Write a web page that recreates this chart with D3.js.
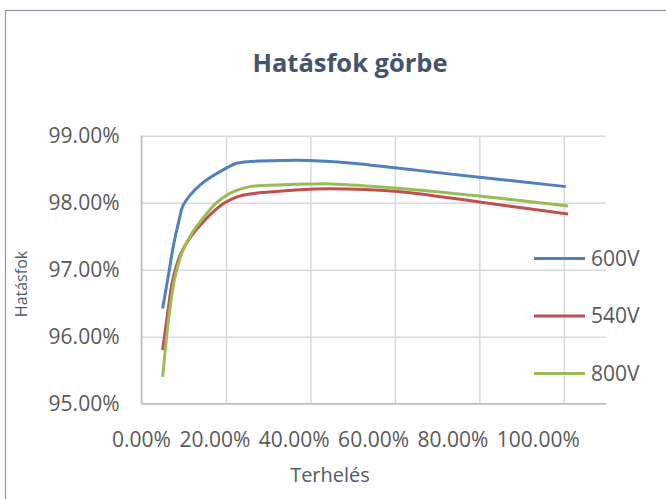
<!DOCTYPE html>
<html>
<head>
<meta charset="utf-8">
<script src="https://cdn.jsdelivr.net/npm/d3@7"></script>
<style>
  html, body { margin: 0; padding: 0; background: #fff; }
  svg { display: block; }
  text { font-family: "Open Sans", "Segoe UI", sans-serif; }
</style>
</head>
<body>
<svg id="chart" width="666" height="499"></svg>
<script>
// ---- data ----
const seriesNames = ["600V", "540V", "800V"];
const seriesColors = ["#4F81BD", "#C0504D", "#9BBB59"];

const load600 = [0.05, 0.066, 0.075, 0.089, 0.099, 0.1385, 0.20, 0.225, 0.26, 0.33, 0.40, 0.50, 0.60, 0.80, 1.005];
const eff600  = [0.9642, 0.9700, 0.9734, 0.9774, 0.97966, 0.98264, 0.98513, 0.98588, 0.98615, 0.9863, 0.9863, 0.9859, 0.9852, 0.9838, 0.9824];

const load540 = [0.05, 0.062, 0.074, 0.093, 0.115, 0.15, 0.195, 0.228, 0.256, 0.327, 0.40, 0.45, 0.60, 0.80, 1.01];
const eff540  = [0.9580, 0.9635, 0.9685, 0.9724, 0.9748, 0.9774, 0.9799, 0.9809, 0.9813, 0.9817, 0.9820, 0.9821, 0.9817, 0.9801, 0.9783];

const load800 = [0.05, 0.0595, 0.066, 0.078, 0.095, 0.119, 0.142, 0.176, 0.209, 0.233, 0.256, 0.30, 0.40, 0.45, 0.60, 0.80, 1.01];
const eff800  = [0.9540, 0.9600, 0.9635, 0.9685, 0.9724, 0.9754, 0.9774, 0.9799, 0.9814, 0.9820, 0.9824, 0.9826, 0.9828, 0.9828, 0.9822, 0.9810, 0.9795];

const xTicks = [0, 0.2, 0.4, 0.6, 0.8, 1.0];
const yTicks = [0.95, 0.96, 0.97, 0.98, 0.99];

const titleText = "Hatásfok görbe";
const xTitle = "Terhelés";
const yTitle = "Hatásfok";

// ---- drawing ----
const svg = d3.select("#chart");
const fmt = d3.format(".2%");

const x = d3.scaleLinear().domain([0, 1.1]).range([141.5, 606]);
const y = d3.scaleLinear().domain([0.95, 0.99]).range([403.7, 135.7]);

// chart frame
svg.append("rect")
  .attr("x", 5.5).attr("y", 10.5)
  .attr("width", 700).attr("height", 520)
  .attr("fill", "#fff")
  .attr("stroke", "#8A96A3").attr("stroke-width", 1.2);

// title
svg.append("text")
  .attr("x", 350).attr("y", 72)
  .attr("text-anchor", "middle")
  .attr("font-size", 25.5).attr("font-weight", 700)
  .attr("fill", "#44546A")
  .text(titleText);

// vertical gridlines via axis
const gx = svg.append("g")
  .attr("transform", `translate(0,${y(0.95)})`)
  .call(d3.axisBottom(x).tickValues(xTicks)
        .tickSize(-(y(0.95) - y(0.99))).tickFormat(""));
gx.select(".domain").remove();
gx.selectAll(".tick line").attr("stroke", "#D9D9D9").attr("stroke-width", 1.5);

// horizontal gridlines + y labels via axis
const gy = svg.append("g")
  .attr("transform", `translate(${x(0)},0)`)
  .call(d3.axisLeft(y).tickValues(yTicks)
        .tickSize(-(x(1.1) - x(0))).tickPadding(22).tickFormat(fmt));
gy.select(".domain").remove();
gy.selectAll(".tick line").attr("stroke", "#D9D9D9").attr("stroke-width", 1.5);
gy.selectAll(".tick text")
  .attr("font-size", 21).attr("fill", "#595959")
  .attr("font-family", "'Open Sans', sans-serif");

// axis lines
svg.append("line")
  .attr("x1", x(0)).attr("x2", x(1.1))
  .attr("y1", y(0.95)).attr("y2", y(0.95))
  .attr("stroke", "#BFBFBF").attr("stroke-width", 1.5);
svg.append("line")
  .attr("x1", x(0)).attr("x2", x(0))
  .attr("y1", y(0.95)).attr("y2", y(0.99))
  .attr("stroke", "#BFBFBF").attr("stroke-width", 1.5);

// x tick labels (packed in a row, as in the reference)
const xLab = svg.append("text")
  .attr("y", 447)
  .attr("font-size", 21).attr("fill", "#595959")
  .attr("word-spacing", 3)
  .text(xTicks.map(fmt).join(" "));
const tmp = svg.append("text").attr("font-size", 21).text(fmt(xTicks[0]));
const firstW = tmp.node().getComputedTextLength();
tmp.remove();
xLab.attr("x", x(0) - firstW / 2);

// axis titles
svg.append("text")
  .attr("x", 330).attr("y", 482)
  .attr("text-anchor", "middle")
  .attr("font-size", 20).attr("fill", "#515C68")
  .text(xTitle);
svg.append("text")
  .attr("transform", `translate(27,284) rotate(-90)`)
  .attr("text-anchor", "middle")
  .attr("font-size", 16).attr("fill", "#515C68")
  .text(yTitle);

// series lines
const series = [
  { name: seriesNames[0], color: seriesColors[0], pts: d3.zip(load600, eff600) },
  { name: seriesNames[1], color: seriesColors[1], pts: d3.zip(load540, eff540) },
  { name: seriesNames[2], color: seriesColors[2], pts: d3.zip(load800, eff800) }
];
const line = d3.line().x(d => x(d[0])).y(d => y(d[1])).curve(d3.curveCatmullRom.alpha(0.5));

svg.append("g").selectAll("path")
  .data(series)
  .join("path")
  .attr("d", d => line(d.pts))
  .attr("fill", "none")
  .attr("stroke", d => d.color)
  .attr("stroke-width", 3)
  .attr("stroke-linejoin", "round");

// legend
const leg = svg.append("g");
const legY = d3.scalePoint().domain(seriesNames).range([258.5, 373.5]);
const li = leg.selectAll("g").data(series).join("g")
  .attr("transform", d => `translate(534,${legY(d.name)})`);
li.append("line").attr("x1", 0).attr("x2", 51)
  .attr("stroke", d => d.color).attr("stroke-width", 3);
li.append("text").attr("x", 57).attr("y", 7)
  .attr("font-size", 21).attr("fill", "#595959")
  .text(d => d.name);
</script>
</body>
</html>
